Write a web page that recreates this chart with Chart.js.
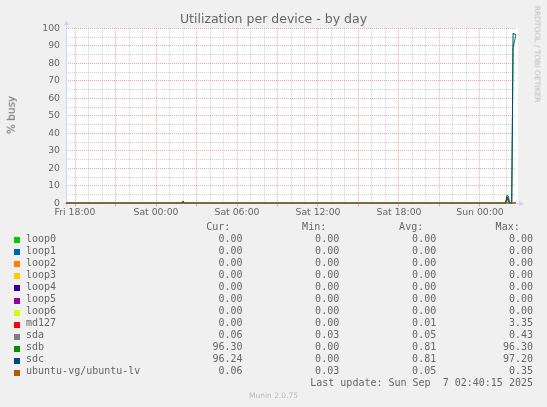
<!DOCTYPE html>
<html>
<head>
<meta charset="utf-8">
<title>Utilization per device - by day</title>
<script src="https://cdn.jsdelivr.net/npm/chart.js@4.4.0/dist/chart.umd.min.js"></script>
<style>
html, body { margin: 0; padding: 0; background: #f0f0f0; }
#wrap { position: relative; width: 547px; height: 407px; overflow: hidden; }
#chart { position: absolute; left: 0; top: 0; }
.txt { position: absolute; white-space: pre; color: #666; font-family: "DejaVu Sans", sans-serif; line-height: 1; }
.sw { position: absolute; width: 6px; height: 6px; }
</style>
</head>
<body>
<div id="wrap">
  <canvas id="chart" width="547" height="407"></canvas>
</div>
<script>
// time of each sample, hours since Fri 18:00
const hours = [-0.667, 7.9, 8.0, 8.1, 22.4, 22.5, 22.6, 31.9, 32.0, 32.1, 32.2, 32.35, 32.45, 32.667];

const loop0Vals = [0, 0, 0, 0, 0, 0, 0, 0, 0, 0, 0, 0, 0, 0];
const loop1Vals = [0, 0, 0, 0, 0, 0, 0, 0, 0, 0, 0, 0, 0, 0];
const loop2Vals = [0, 0, 0, 0, 0, 0, 0, 0, 0, 0, 0, 0, 0, 0];
const loop3Vals = [0, 0, 0, 0, 0, 0, 0, 0, 0, 0, 0, 0, 0, 0];
const loop4Vals = [0, 0, 0, 0, 0, 0, 0, 0, 0, 0, 0, 0, 0, 0];
const loop5Vals = [0, 0, 0, 0, 0, 0, 0, 0, 0, 0, 0, 0, 0, 0];
const loop6Vals = [0, 0, 0, 0, 0, 0, 0, 0, 0, 0, 0, 0, 0, 0];
const md127Vals = [0, 0, 0, 0, 0, 0, 0, 0, 3.35, 0.9, 0, 0, 0, 0];
const sdaVals   = [0.05, 0.05, 0.06, 0.05, 0.05, 0.25, 0.05, 0.05, 0.43, 0.2, 0.05, 0.05, 0.06, 0.06];
const sdbVals   = [0, 0, 0.9, 0, 0, 0, 0, 0, 4.6, 4.0, 0, 0, 89, 96.3];
const sdcVals   = [0, 0, 1.3, 0, 0, 0, 0, 0, 3.8, 2.6, 0, 0, 97.2, 96.24];
const lvVals    = [0.05, 0.05, 0.05, 0.05, 0.05, 0.33, 0.05, 0.05, 0.35, 0.15, 0.05, 0.05, 0.06, 0.06];

const names = ["loop0", "loop1", "loop2", "loop3", "loop4", "loop5", "loop6", "md127", "sda", "sdb", "sdc", "ubuntu-vg/ubuntu-lv"];
const colors = ["#00CC00", "#0066B3", "#FF8000", "#FFCC00", "#330099", "#990099", "#CCFF00", "#FF0000", "#808080", "#008F00", "#00487D", "#B35A00"];
const seriesVals = [loop0Vals, loop1Vals, loop2Vals, loop3Vals, loop4Vals, loop5Vals, loop6Vals, md127Vals, sdaVals, sdbVals, sdcVals, lvVals];

const curVals = [0, 0, 0, 0, 0, 0, 0, 0, 0.06, 96.30, 96.24, 0.06];
const minVals = [0, 0, 0, 0, 0, 0, 0, 0, 0.03, 0, 0, 0.03];
const avgVals = [0, 0, 0, 0, 0, 0, 0, 0.01, 0.05, 0.81, 0.81, 0.05];
const maxVals = [0, 0, 0, 0, 0, 0, 0, 3.35, 0.43, 96.30, 97.20, 0.35];

const xLabels = ["Fri 18:00", "Sat 00:00", "Sat 06:00", "Sat 12:00", "Sat 18:00", "Sun 00:00"];
const xLabelHours = [0, 6, 12, 18, 24, 30];
const yLabels = [0, 10, 20, 30, 40, 50, 60, 70, 80, 90, 100];

const xMin = -0.667, xMax = 32.667;
const majorGrid = "rgba(232,110,110,0.6)";
const minorGrid = "rgba(150,150,150,0.45)";
const axisCol = "#CFD6F8";

const datasets = names.map(function(n, i){
    return {
        label: n,
        data: hours.map(function(h, j){ return {x: h, y: seriesVals[i][j]}; }),
        borderColor: colors[i],
        borderWidth: 1,
        pointRadius: 0,
        tension: 0,
        fill: false,
        order: names.length - 1 - i
    };
});

// background, axis lines and arrows in the rrdtool look
const munin = {
    id: "munin",
    beforeDraw(chart){
        const ctx = chart.ctx, a = chart.chartArea;
        ctx.save();
        ctx.fillStyle = "#f0f0f0";
        ctx.fillRect(0, 0, chart.width, chart.height);
        ctx.fillStyle = "#ffffff";
        ctx.fillRect(a.left, a.top, a.right - a.left + 2, a.bottom - a.top);
        ctx.restore();
    },
    beforeDatasetsDraw(chart){
        const ctx = chart.ctx, a = chart.chartArea;
        const lx = Math.round(a.left) + 0.5, by = Math.round(a.bottom) + 0.5;
        ctx.save();
        ctx.strokeStyle = axisCol;
        ctx.fillStyle = axisCol;
        ctx.lineWidth = 1;
        ctx.setLineDash([]);
        ctx.beginPath();
        ctx.moveTo(lx, a.bottom + 3); ctx.lineTo(lx, a.top - 4);
        ctx.moveTo(a.left - 3, by); ctx.lineTo(a.right + 4, by);
        ctx.stroke();
        ctx.beginPath();
        ctx.moveTo(lx - 3, a.top - 3); ctx.lineTo(lx + 3, a.top - 3); ctx.lineTo(lx, a.top - 8); ctx.closePath();
        ctx.fill();
        ctx.beginPath();
        ctx.moveTo(a.right + 3, by - 3); ctx.lineTo(a.right + 3, by + 3); ctx.lineTo(a.right + 8, by); ctx.closePath();
        ctx.fill();
        ctx.restore();
    }
};

new Chart(document.getElementById("chart"), {
    type: "line",
    data: { datasets: datasets },
    options: {
        responsive: false,
        animation: false,
        devicePixelRatio: 1,
        layout: { autoPadding: false, padding: { left: 0, top: 28.3, right: 31, bottom: 183.7 } },
        plugins: { legend: { display: false }, title: { display: false }, tooltip: { enabled: false } },
        scales: {
            x: {
                type: "linear",
                min: xMin,
                max: xMax,
                afterBuildTicks: function(scale){
                    const t = [];
                    for (let h = 0; h <= 32; h++) t.push({ value: h });
                    scale.ticks = t;
                },
                afterFit: function(scale){ scale.height = 20; },
                ticks: {
                    autoSkip: false,
                    maxRotation: 0,
                    padding: 1,
                    color: "#666",
                    font: { family: "DejaVu Sans", size: 9.3 },
                    callback: function(v){
                        const k = xLabelHours.indexOf(v);
                        return k >= 0 ? xLabels[k] : "";
                    }
                },
                grid: {
                    color: function(c){ return c.tick && c.tick.value % 3 === 0 ? majorGrid : minorGrid; },
                    tickColor: function(c){ return c.tick && c.tick.value % 3 === 0 ? majorGrid : "rgba(0,0,0,0)"; },
                    tickLength: 3,
                    tickBorderDash: [],
                    drawTicks: true
                },
                border: { display: false, dash: [1, 1] }
            },
            y: {
                min: 0,
                max: 100,
                afterBuildTicks: function(scale){
                    const t = [];
                    for (let v = 0; v <= 100; v += 5) t.push({ value: v });
                    scale.ticks = t;
                },
                afterFit: function(scale){ scale.width = 66; },
                ticks: {
                    autoSkip: false,
                    padding: 6,
                    color: "#666",
                    font: { family: "DejaVu Sans", size: 9.3 },
                    callback: function(v){ return yLabels.indexOf(v) >= 0 ? String(v) : ""; }
                },
                grid: {
                    color: function(c){ return c.tick && c.tick.value % 10 === 0 ? majorGrid : minorGrid; },
                    drawTicks: false
                },
                border: { display: false, dash: [1, 1] }
            }
        }
    },
    plugins: [munin]
});

// text parts (title, axis title, legend table)
const wrap = document.getElementById("wrap");
function addText(str, css){
    const d = document.createElement("div");
    d.className = "txt";
    d.textContent = str;
    Object.assign(d.style, css);
    wrap.appendChild(d);
    return d;
}
function addRight(str, right, cy){
    addText(str, { right: (547 - right) + "px", top: (cy - 5.5) + "px", fontFamily: '"DejaVu Sans Mono", monospace', fontSize: "10px" });
}

addText("Utilization per device - by day", { left: "0", width: "547px", textAlign: "center", top: "12.5px", fontSize: "12.5px" });
addText("% busy", { left: "10.5px", top: "115px", fontSize: "10.5px", transform: "translate(-50%,-50%) rotate(-90deg)" });
addText("RRDTOOL / TOBI OETIKER", { left: "537px", top: "53.5px", fontSize: "7.5px", color: "#bbb", transform: "translate(-50%,-50%) rotate(90deg)" });

const headY = 227.3, rowY0 = 239.3, rowStep = 12.04;
addRight("Cur:", 230.3, headY);
addRight("Min:", 326.2, headY);
addRight("Avg:", 423.2, headY);
addRight("Max:", 519.7, headY);
names.forEach(function(n, i){
    const cy = rowY0 + i * rowStep;
    const s = document.createElement("div");
    s.className = "sw";
    s.style.left = "14px";
    s.style.top = (cy - 2) + "px";
    s.style.background = colors[i];
    wrap.appendChild(s);
    addText(n, { left: "26px", top: (cy - 5.5) + "px", fontFamily: '"DejaVu Sans Mono", monospace', fontSize: "10px" });
    addRight(curVals[i].toFixed(2), 242.5, cy);
    addRight(minVals[i].toFixed(2), 339.2, cy);
    addRight(avgVals[i].toFixed(2), 436.2, cy);
    addRight(maxVals[i].toFixed(2), 533, cy);
});
addRight("Last update: Sun Sep  7 02:40:15 2025", 533, 383.3);
addText("Munin 2.0.75", { left: "0", width: "547px", textAlign: "center", top: (395.7 - 4) + "px", fontSize: "7.5px", color: "#bbb" });
</script>
</body>
</html>
